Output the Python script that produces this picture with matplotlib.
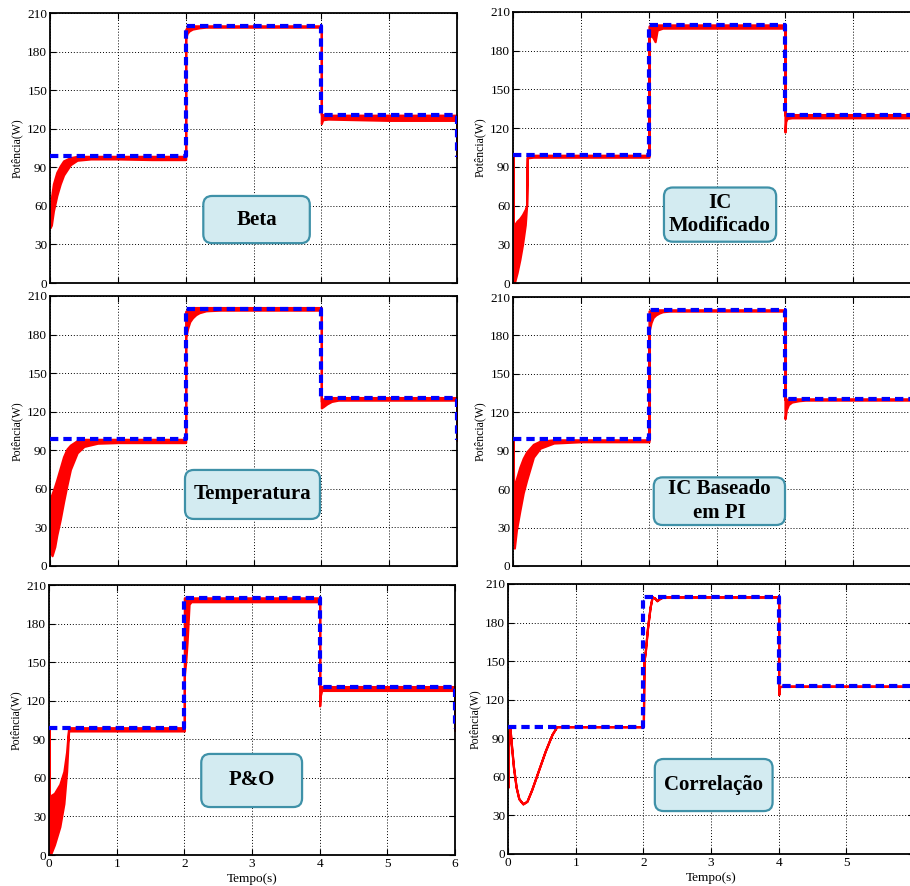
import matplotlib.pyplot as plt
from matplotlib.patches import FancyBboxPatch

plt.rcParams['font.family'] = ['Liberation Serif', 'DejaVu Serif']

# reference power (blue dashed), same in all panels
t_ref = [0, 2, 2, 4, 4, 6, 6]
p_ref = [99, 99, 200, 200, 130.5, 130.5, 98]

# Beta
t_beta = [0.0, 0.02, 0.05, 0.1, 0.15, 0.2, 0.3, 0.4, 0.6, 1.0, 1.5, 2.0, 2.0, 2.02, 2.05, 2.1,
          2.2, 2.3, 3.0, 4.0, 4.0, 4.02, 4.1, 5.0, 6.0, 6.0]
lo_beta = [43, 45, 56, 68, 77, 84, 92, 95.5, 96.5, 96.5, 96, 96, 190, 194, 196, 197.5,
           198.5, 199, 199, 199, 124, 127, 127.5, 126.5, 126.5, 98]
hi_beta = [47, 66, 77, 86, 91, 95, 97.5, 98.5, 98.5, 98.5, 98.5, 98.5, 197, 199, 200, 200,
           200, 200, 200, 200, 131, 131, 130.5, 130.5, 130.5, 98]

# IC Modificado
t_icm = [0.0, 0.0, 0.02, 0.06, 0.1, 0.14, 0.18, 0.2, 0.21, 0.3, 1.0, 2.0, 2.0, 2.03, 2.06, 2.09,
         2.12, 2.2, 3.0, 4.0, 4.0, 4.01, 4.03, 4.1, 5.0, 6.0, 6.0]
lo_icm = [99, 0, 0, 8, 18, 30, 45, 60, 97, 97.5, 97.5, 97.5, 190, 192, 190, 187,
          196, 197.5, 197.5, 197.5, 117, 125, 127.5, 128, 128, 128, 98]
hi_icm = [99, 40, 45, 48, 50, 53, 57, 60, 99, 99, 99, 99, 199, 200, 200, 200,
          200, 200, 200, 200, 130, 130, 130.5, 130.5, 130.5, 130.5, 98]

# Temperatura
t_temp = [0.0, 0.03, 0.07, 0.1, 0.15, 0.2, 0.25, 0.3, 0.4, 0.5, 0.7, 1.0, 2.0, 2.0, 2.03, 2.06,
          2.1, 2.15, 2.2, 2.3, 2.5, 3.0, 4.0, 4.0, 4.03, 4.08, 4.15, 4.25, 5.0, 6.0, 6.0]
lo_temp = [12, 8, 15, 24, 36, 50, 63, 75, 88, 93, 95.5, 96, 96, 178, 185, 190,
           193, 195.5, 197, 198.5, 199, 199, 199, 123, 124, 126, 128, 129, 129, 129, 98]
hi_temp = [52, 56, 62, 67, 76, 85, 91, 94, 97.5, 98.5, 98.5, 98.5, 98.5, 198, 199.5, 200.5,
           201, 201, 201, 201, 201, 201, 201, 128, 130, 131, 131, 131, 131, 131, 98]

# IC Baseado em PI
t_icpi = [0.0, 0.0, 0.01, 0.02, 0.05, 0.1, 0.15, 0.2, 0.3, 0.4, 0.6, 1.0, 2.0, 2.0, 2.03, 2.06,
          2.1, 2.15, 2.2, 2.3, 3.0, 4.0, 4.0, 4.02, 4.05, 4.1, 4.2, 4.3, 5.0, 6.0, 6.0]
lo_icpi = [99, 45, 30, 14, 28, 43, 57, 67, 85, 92, 96, 97, 97, 183, 190, 194,
           196, 197.5, 198.5, 199, 199, 199, 115, 122, 126, 128, 129, 129.5, 129.5, 129.5, 98]
hi_icpi = [99, 99, 60, 62, 68, 77, 84, 89, 95, 97.5, 98.5, 98.5, 98.5, 199, 200, 200,
           200, 200, 200, 200, 200, 200, 130, 130, 130.5, 130.5, 130.5, 130.5, 130.5, 130.5, 98]

# P&O
t_po = [0.0, 0.0, 0.02, 0.08, 0.16, 0.22, 0.26, 0.29, 0.35, 1.0, 2.0, 2.0, 2.02, 2.04, 2.07, 2.1,
        2.2, 3.0, 4.0, 4.0, 4.01, 4.03, 4.1, 5.0, 6.0, 6.0]
lo_po = [99, 0, 0, 8, 22, 40, 65, 96.5, 96.5, 96.5, 96.5, 140, 150, 165, 195, 197,
         197, 197, 197, 116, 124, 128, 128, 128, 128, 97]
hi_po = [99, 45, 46, 48, 55, 65, 80, 99, 99, 99, 99, 200, 200, 200, 200, 200,
         200, 200, 200, 131, 131, 131, 131, 131, 131, 97]

# Correlação (no ripple)
t_corr = [0.0, 0.01, 0.03, 0.05, 0.08, 0.12, 0.16, 0.22, 0.28, 0.35, 0.45, 0.55, 0.65, 0.72, 1.0,
          2.0, 2.01, 2.03, 2.06, 2.1, 2.13, 2.17, 2.2, 2.25, 2.3, 3.0, 4.0, 4.0, 4.01, 4.05, 5.0, 6.0]
p_corr = [52, 95, 97, 85, 68, 52, 43, 39, 41, 50, 65, 80, 93, 99, 99,
          99, 150, 158, 175, 192, 200, 199, 197, 199, 200, 200, 200, 124, 130, 130.5, 130.5, 130.5]

yticks = [0, 30, 60, 90, 120, 150, 180, 210]
xticks = [0, 1, 2, 3, 4, 5, 6]

W, H = 910, 886
fig = plt.figure(figsize=(W / 100, H / 100), dpi=100)

# label, t, lo, hi, box (t0, t1, p0, p1), axes px (left, top, right, bottom), x labels
panels = [
    ('Beta', t_beta, lo_beta, hi_beta, (2.26, 3.83, 31, 67.7), (50, 13, 457, 283), None),
    ('IC\nModificado', t_icm, lo_icm, hi_icm, (2.22, 3.87, 32, 74), (513, 12, 921, 283), None),
    ('Temperatura', t_temp, lo_temp, hi_temp, (1.99, 3.98, 36.6, 74.7), (50, 296, 457, 566), None),
    ('IC Baseado\nem PI', t_icpi, lo_icpi, hi_icpi, (2.07, 4.0, 32, 69.2), (513, 297, 921, 566), None),
    ('P&O', t_po, lo_po, hi_po, (2.25, 3.74, 37.3, 78.6), (49, 585, 455, 855),
     ['0', '1', '2', '3', '4', '5', '6']),
    ('Correlação', t_corr, p_corr, p_corr, (2.17, 3.91, 33.4, 73.9), (508, 584, 914, 854),
     ['0', '1', '2', '3', '4', '5', '']),
]

for label, t, lo, hi, box, (l, tp, r, b), xlabels in panels:
    assert len(t) == len(lo) == len(hi), label
    ax = fig.add_axes([l / W, (H - b) / H, (r - l) / W, (b - tp) / H])
    ax.fill_between(t, lo, hi, color='red', lw=1.6, zorder=2)
    ax.plot(t_ref, p_ref, color='blue', lw=3, ls=(0, (2.0, 1.2)),
            dash_capstyle='butt', zorder=3)
    ax.set_xlim(0, 6)
    ax.set_ylim(0, 210)
    ax.set_xticks(xticks)
    ax.set_yticks(yticks)
    ax.grid(True, color='black', ls=(0, (1, 2)), lw=0.7)
    ax.tick_params(direction='in', length=4, width=0.8, labelsize=9.5,
                   top=True, right=True, pad=2)
    for s in ax.spines.values():
        s.set_linewidth(1.3)
    ax.set_ylabel('Potência(W)', fontsize=8.5, labelpad=3)
    if xlabels:
        ax.set_xticklabels(xlabels)
        ax.set_xlabel('Tempo(s)', fontsize=9.5, labelpad=2)
    else:
        ax.set_xticklabels([])

    # rounded label box, corrected for the axes aspect
    t0, t1, p0, p1 = box
    asp = (210 / (b - tp)) / (6 / (r - l))
    patch = FancyBboxPatch((t0, p0), t1 - t0, p1 - p0,
                           boxstyle='round,pad=0,rounding_size=0.13',
                           mutation_aspect=asp, fc='#d3ebf1', ec='#3f91a8',
                           lw=1.6, zorder=4)
    ax.add_patch(patch)
    ax.text((t0 + t1) / 2, (p0 + p1) / 2, label, ha='center', va='center',
            fontsize=15, fontweight='bold', linespacing=1.25, zorder=5)

fig.savefig('out.png', dpi=100)
